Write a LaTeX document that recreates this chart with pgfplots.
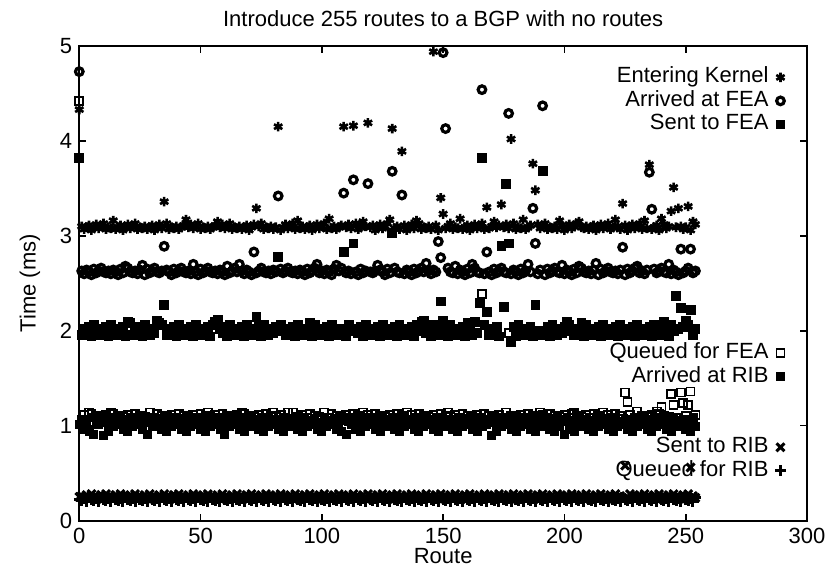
\documentclass[border=0pt]{standalone}
\usepackage{fontspec}
\setmainfont{Liberation Sans}
\usepackage{pgfplots}
\usepackage{pgfplotstable}
\pgfplotsset{compat=1.18}

% one row per route: time (ms) at each stage
\pgfplotstableread{
r ek af sf qf ar sr qr
0 4.33 4.73 3.82 4.42 1.01 0.25 0.22
1 3.10 2.63 1.96 1.06 1.07 0.26 0.21
2 3.07 2.60 2.02 1.11 0.96 0.24 0.23
3 3.09 2.64 1.98 1.05 1.03 0.27 0.20
4 3.11 2.62 2.04 1.14 0.94 0.23 0.24
5 3.06 2.59 1.94 1.12 1.09 0.28 0.22
6 3.09 2.65 2.06 1.04 0.91 0.25 0.21
7 3.12 2.61 2.00 1.10 1.05 0.26 0.23
8 3.08 2.63 1.96 1.07 1.01 0.24 0.20
9 3.10 2.66 2.02 1.09 1.07 0.27 0.24
10 3.13 2.62 1.98 1.06 0.90 0.23 0.22
11 3.07 2.61 2.04 1.11 1.03 0.28 0.21
12 3.09 2.63 1.94 1.05 0.94 0.25 0.23
13 3.08 2.60 2.06 1.14 1.09 0.26 0.20
14 3.16 2.64 2.00 1.12 0.99 0.24 0.24
15 3.07 2.62 1.96 1.04 1.05 0.27 0.22
16 3.09 2.59 2.02 1.10 1.01 0.23 0.21
17 3.11 2.65 1.98 1.07 1.07 0.28 0.23
18 3.06 2.61 2.04 1.09 0.96 0.25 0.20
19 3.09 2.68 1.94 1.06 1.03 0.26 0.24
20 3.12 2.66 2.09 1.11 0.94 0.24 0.22
21 3.08 2.62 2.08 1.05 1.09 0.27 0.21
22 3.10 2.61 1.96 1.08 0.99 0.23 0.23
23 3.13 2.63 2.02 1.12 1.05 0.28 0.20
24 3.07 2.60 1.98 1.04 1.01 0.25 0.24
25 3.09 2.64 2.04 1.10 1.07 0.26 0.22
26 3.08 2.69 1.94 1.07 0.96 0.24 0.21
27 3.10 2.59 2.06 1.09 1.03 0.27 0.23
28 3.07 2.65 2.00 1.06 0.91 0.23 0.20
29 3.09 2.61 1.96 1.14 1.09 0.28 0.24
30 3.11 2.63 2.02 1.05 0.99 0.25 0.22
31 3.06 2.66 1.98 1.08 1.05 0.26 0.21
32 3.09 2.62 2.10 1.12 1.01 0.24 0.23
33 3.12 2.61 2.08 1.04 1.07 0.27 0.20
34 3.08 2.63 2.06 1.10 0.96 0.23 0.24
35 3.36 2.89 2.27 1.07 1.03 0.28 0.22
36 3.13 2.64 1.96 1.09 0.94 0.25 0.21
37 3.07 2.62 2.02 1.06 1.09 0.26 0.23
38 3.09 2.59 1.98 1.11 0.99 0.24 0.20
39 3.08 2.65 2.04 1.05 1.05 0.27 0.24
40 3.10 2.61 1.94 1.08 1.01 0.23 0.22
41 3.07 2.63 2.06 1.12 1.07 0.28 0.21
42 3.09 2.66 2.00 1.04 0.96 0.25 0.23
43 3.11 2.62 1.96 1.10 1.03 0.26 0.20
44 3.17 2.61 2.02 1.07 0.94 0.24 0.24
45 3.09 2.63 1.98 1.09 1.09 0.27 0.22
46 3.12 2.60 2.04 1.06 0.99 0.23 0.21
47 3.08 2.70 1.94 1.11 1.05 0.28 0.23
48 3.10 2.62 2.06 1.05 1.01 0.25 0.20
49 3.13 2.59 2.00 1.08 1.07 0.26 0.24
50 3.07 2.65 1.96 1.12 0.96 0.24 0.22
51 3.09 2.61 2.02 1.04 1.03 0.27 0.21
52 3.08 2.63 1.98 1.10 0.94 0.23 0.23
53 3.10 2.66 2.04 1.14 1.09 0.28 0.20
54 3.07 2.62 1.94 1.09 0.99 0.25 0.24
55 3.09 2.61 2.06 1.06 1.05 0.26 0.22
56 3.11 2.63 2.09 1.11 1.01 0.24 0.21
57 3.15 2.60 2.12 1.05 1.07 0.27 0.23
58 3.09 2.64 2.02 1.08 0.96 0.23 0.20
59 3.12 2.62 1.98 1.12 1.03 0.28 0.24
60 3.08 2.59 2.04 1.04 0.91 0.25 0.22
61 3.10 2.68 1.94 1.10 1.09 0.26 0.21
62 3.13 2.61 2.06 1.07 0.99 0.24 0.23
63 3.07 2.63 2.00 1.09 1.05 0.27 0.20
64 3.09 2.66 1.96 1.06 1.01 0.23 0.24
65 3.08 2.62 2.02 1.11 1.07 0.28 0.22
66 3.10 2.70 1.98 1.05 0.96 0.25 0.21
67 3.07 2.63 2.04 1.14 1.03 0.26 0.23
68 3.09 2.60 1.94 1.12 0.94 0.24 0.20
69 3.11 2.64 2.06 1.04 1.09 0.27 0.24
70 3.06 2.62 2.00 1.10 0.99 0.23 0.22
71 3.09 2.59 1.96 1.07 1.05 0.28 0.21
72 3.12 2.83 2.02 1.09 1.01 0.25 0.23
73 3.29 2.61 2.15 1.06 1.07 0.26 0.20
74 3.10 2.63 2.04 1.11 0.96 0.24 0.24
75 3.13 2.66 1.94 1.05 1.03 0.27 0.22
76 3.07 2.62 2.06 1.08 0.94 0.23 0.21
77 3.09 2.61 2.00 1.12 1.09 0.28 0.23
78 3.08 2.63 1.96 1.04 0.99 0.25 0.20
79 3.10 2.60 2.02 1.10 1.05 0.26 0.24
80 3.07 2.64 1.98 1.14 1.01 0.24 0.22
81 3.09 2.62 2.04 1.09 1.07 0.27 0.21
82 4.15 3.42 2.78 1.06 0.96 0.23 0.23
83 3.06 2.65 2.06 1.11 1.03 0.28 0.20
84 3.09 2.61 2.00 1.05 0.94 0.25 0.24
85 3.12 2.63 1.96 1.08 1.09 0.26 0.22
86 3.08 2.66 2.02 1.14 0.99 0.24 0.21
87 3.10 2.62 1.98 1.04 1.05 0.27 0.23
88 3.13 2.61 2.04 1.14 1.01 0.23 0.20
89 3.07 2.63 1.94 1.07 1.07 0.28 0.24
90 3.16 2.60 2.06 1.09 0.96 0.25 0.22
91 3.08 2.64 2.00 1.06 1.03 0.26 0.21
92 3.10 2.62 1.96 1.11 0.94 0.24 0.23
93 3.07 2.59 2.02 1.05 1.09 0.27 0.20
94 3.09 2.65 1.98 1.08 0.99 0.23 0.24
95 3.11 2.61 2.08 1.12 1.05 0.28 0.22
96 3.06 2.63 1.94 1.04 1.01 0.25 0.21
97 3.09 2.66 2.06 1.10 1.07 0.26 0.23
98 3.12 2.70 2.00 1.07 0.96 0.24 0.20
99 3.08 2.61 1.96 1.09 1.03 0.27 0.24
100 3.10 2.63 2.02 1.06 0.94 0.23 0.22
101 3.13 2.60 1.98 1.14 1.09 0.28 0.21
102 3.07 2.64 2.04 1.05 0.99 0.25 0.23
103 3.18 2.62 1.94 1.08 1.05 0.26 0.20
104 3.08 2.59 2.06 1.12 1.01 0.24 0.24
105 3.10 2.65 2.00 1.04 1.07 0.27 0.22
106 3.07 2.69 1.96 1.10 0.96 0.23 0.21
107 3.09 2.63 2.02 1.07 1.03 0.28 0.23
108 3.11 2.66 1.98 1.09 0.94 0.25 0.20
109 4.15 3.45 2.83 1.06 1.09 0.26 0.24
110 3.09 2.61 1.94 1.11 0.91 0.24 0.22
111 3.12 2.63 2.06 1.05 1.05 0.27 0.21
112 3.08 2.60 2.00 1.08 1.01 0.23 0.23
113 4.16 3.59 2.92 1.12 1.07 0.28 0.20
114 3.13 2.62 2.02 1.04 0.96 0.25 0.24
115 3.07 2.59 1.98 1.10 1.03 0.26 0.22
116 3.09 2.65 2.04 1.07 0.94 0.24 0.21
117 3.15 2.61 1.94 1.14 1.09 0.27 0.23
118 3.10 2.63 2.06 1.06 0.99 0.23 0.20
119 4.19 3.55 2.00 1.11 1.05 0.28 0.24
120 3.09 2.62 1.96 1.05 1.01 0.25 0.22
121 3.11 2.61 2.02 1.08 1.07 0.26 0.21
122 3.06 2.63 1.98 1.12 0.96 0.24 0.23
123 3.09 2.69 2.04 1.04 1.03 0.27 0.20
124 3.12 2.64 1.94 1.10 0.94 0.23 0.24
125 3.08 2.62 2.06 1.07 1.09 0.28 0.22
126 3.10 2.59 2.00 1.09 0.99 0.25 0.21
127 3.13 2.65 1.96 1.06 1.05 0.26 0.23
128 3.17 2.61 2.02 1.11 1.01 0.24 0.20
129 4.13 3.68 3.03 1.05 1.07 0.27 0.24
130 3.08 2.66 2.04 1.08 0.96 0.23 0.22
131 3.10 2.62 1.94 1.12 1.03 0.28 0.21
132 3.07 2.61 2.06 1.04 0.94 0.25 0.23
133 3.89 3.43 2.00 1.10 1.09 0.26 0.20
134 3.11 2.60 1.96 1.07 0.99 0.24 0.24
135 3.06 2.64 2.02 1.14 1.05 0.27 0.22
136 3.09 2.62 1.98 1.06 1.01 0.23 0.21
137 3.12 2.59 2.04 1.11 1.07 0.28 0.23
138 3.08 2.65 1.94 1.05 0.96 0.25 0.20
139 3.16 2.61 2.06 1.08 1.03 0.26 0.24
140 3.13 2.63 2.00 1.12 0.94 0.24 0.22
141 3.07 2.66 2.09 1.04 1.09 0.27 0.21
142 3.09 2.62 2.10 1.10 0.99 0.23 0.23
143 3.08 2.71 1.98 1.07 1.05 0.28 0.20
144 3.10 2.63 2.04 1.09 1.01 0.25 0.24
145 3.07 2.60 1.94 1.06 1.07 0.26 0.22
146 4.94 2.64 2.06 1.11 0.96 0.24 0.21
147 3.11 2.62 2.00 1.05 1.03 0.27 0.23
148 3.06 2.94 1.96 1.08 0.94 0.23 0.20
149 3.40 2.77 2.31 1.12 1.09 0.28 0.24
150 3.23 4.93 2.10 1.04 0.99 0.25 0.22
151 3.08 4.13 2.04 1.10 1.05 0.26 0.21
152 3.10 2.66 1.94 1.14 1.01 0.24 0.23
153 3.13 2.62 2.06 1.09 1.07 0.27 0.20
154 3.07 2.61 2.00 1.06 0.96 0.23 0.24
155 3.09 2.68 1.96 1.11 1.03 0.28 0.22
156 3.08 2.60 2.02 1.05 0.94 0.25 0.21
157 3.18 2.64 1.98 1.08 1.09 0.26 0.23
158 3.07 2.62 2.04 1.12 0.99 0.24 0.20
159 3.09 2.59 1.94 1.04 1.05 0.27 0.24
160 3.11 2.65 2.08 1.10 1.01 0.23 0.22
161 3.06 2.61 2.00 1.07 1.07 0.28 0.21
162 3.09 2.70 1.96 1.09 0.96 0.25 0.23
163 3.12 2.66 2.09 1.06 1.03 0.26 0.20
164 3.08 2.62 1.98 1.11 0.94 0.24 0.24
165 3.10 2.61 2.29 1.05 1.09 0.27 0.22
166 3.13 4.54 3.82 2.39 0.99 0.23 0.21
167 3.07 2.60 2.06 1.12 1.05 0.28 0.23
168 3.30 2.83 2.20 1.04 1.01 0.25 0.20
169 3.08 2.62 1.96 1.10 1.07 0.26 0.24
170 3.10 2.59 2.02 1.07 0.90 0.24 0.22
171 3.15 2.65 1.98 1.09 1.03 0.27 0.21
172 3.09 2.61 2.04 1.06 0.94 0.23 0.23
173 3.11 2.63 1.94 1.11 1.09 0.28 0.20
174 3.33 2.66 2.89 1.05 0.99 0.25 0.24
175 3.09 2.62 2.25 1.08 1.05 0.26 0.22
176 3.12 2.61 3.55 1.14 1.01 0.24 0.21
177 3.08 4.29 2.92 1.98 1.07 0.27 0.23
178 4.02 2.60 1.88 1.10 0.96 0.23 0.20
179 3.13 2.64 2.04 1.07 1.03 0.28 0.24
180 3.07 2.62 1.94 1.09 0.94 0.25 0.22
181 3.09 2.59 2.06 1.06 1.09 0.26 0.21
182 3.08 2.65 2.00 1.11 0.99 0.24 0.23
183 3.17 2.61 1.96 1.05 1.05 0.27 0.20
184 3.07 2.63 2.02 1.08 1.01 0.23 0.24
185 3.09 2.70 1.98 1.12 1.07 0.28 0.22
186 3.11 2.62 2.04 1.04 0.96 0.25 0.21
187 3.76 3.29 1.94 1.10 1.03 0.26 0.23
188 3.48 2.92 2.27 1.07 0.94 0.24 0.20
189 3.12 2.60 2.00 1.09 1.09 0.27 0.24
190 3.08 2.64 1.96 1.14 0.99 0.23 0.22
191 3.10 4.37 3.68 1.11 1.05 0.28 0.21
192 3.13 2.59 1.98 1.05 1.01 0.25 0.23
193 3.07 2.65 2.04 1.08 1.07 0.26 0.20
194 3.09 2.61 1.94 1.12 0.96 0.24 0.24
195 3.08 2.63 2.06 1.04 1.03 0.27 0.22
196 3.10 2.66 2.00 1.10 0.94 0.23 0.21
197 3.07 2.62 1.96 1.07 1.09 0.28 0.23
198 3.16 2.61 2.02 1.09 0.99 0.25 0.20
199 3.11 2.69 1.98 1.06 1.05 0.26 0.24
200 3.06 2.60 2.04 1.11 0.91 0.24 0.22
201 3.09 2.64 2.09 1.05 1.07 0.27 0.21
202 3.12 2.62 2.06 1.08 0.96 0.23 0.23
203 3.08 2.59 2.00 1.12 1.03 0.28 0.20
204 3.10 2.65 1.96 1.14 0.94 0.25 0.24
205 3.13 2.61 2.02 1.10 1.09 0.26 0.22
206 3.15 2.68 1.98 1.07 0.99 0.24 0.21
207 3.09 2.66 2.08 1.09 1.05 0.27 0.23
208 3.08 2.62 1.94 1.06 1.01 0.23 0.20
209 3.10 2.61 2.06 1.11 1.07 0.28 0.24
210 3.07 2.63 2.00 1.05 0.96 0.25 0.22
211 3.09 2.60 1.96 1.08 1.03 0.26 0.21
212 3.11 2.64 2.02 1.12 0.94 0.24 0.23
213 3.06 2.71 1.98 1.04 1.09 0.27 0.20
214 3.09 2.59 2.04 1.10 0.99 0.23 0.24
215 3.12 2.65 1.94 1.07 1.05 0.28 0.22
216 3.08 2.61 2.06 1.14 1.01 0.25 0.21
217 3.10 2.63 2.00 1.06 1.07 0.26 0.23
218 3.13 2.66 1.96 1.11 0.96 0.24 0.20
219 3.07 2.62 2.02 1.05 1.03 0.27 0.24
220 3.09 2.61 1.98 1.08 0.94 0.23 0.22
221 3.17 2.63 2.04 1.12 1.09 0.28 0.21
222 3.10 2.60 1.94 1.04 0.99 0.25 0.23
223 3.07 2.64 2.06 1.10 1.05 0.26 0.20
224 3.34 2.88 2.00 1.07 1.01 0.24 0.24
225 3.11 2.59 1.96 1.35 1.07 0.58 0.22
226 3.06 2.65 2.02 1.25 0.96 0.23 0.21
227 3.09 2.61 1.98 1.11 1.03 0.28 0.23
228 3.12 2.63 2.04 1.05 0.94 0.25 0.20
229 3.08 2.66 1.94 1.08 1.09 0.26 0.24
230 3.10 2.68 2.06 1.15 0.99 0.24 0.22
231 3.13 2.61 2.00 1.04 1.05 0.27 0.21
232 3.07 2.63 1.96 1.10 1.01 0.23 0.23
233 3.16 2.60 2.02 1.07 1.07 0.28 0.20
234 3.08 2.64 1.98 1.09 0.96 0.25 0.24
235 3.75 3.67 2.04 1.06 1.03 0.26 0.22
236 3.07 3.28 1.94 1.11 0.94 0.24 0.21
237 3.09 2.65 2.06 1.05 1.09 0.27 0.23
238 3.11 2.61 2.00 1.15 0.99 0.23 0.20
239 3.06 2.63 1.96 1.12 1.05 0.28 0.24
240 3.18 2.66 2.02 1.20 1.01 0.25 0.22
241 3.12 2.62 2.09 1.10 1.07 0.26 0.21
242 3.08 2.61 2.04 1.07 0.96 0.24 0.23
243 3.10 2.70 1.94 1.09 1.03 0.27 0.20
244 3.26 2.60 2.06 1.33 0.94 0.23 0.24
245 3.51 2.64 2.00 1.22 1.09 0.28 0.22
246 3.09 2.62 2.37 1.05 0.99 0.25 0.21
247 3.29 2.59 2.02 1.08 1.05 0.26 0.23
248 3.10 2.86 2.24 1.35 1.01 0.24 0.20
249 3.07 2.61 2.04 1.24 1.07 0.27 0.24
250 3.09 2.63 2.10 1.10 0.96 0.23 0.22
251 3.31 2.66 2.06 1.22 1.03 0.28 0.21
252 3.06 2.86 2.22 1.36 0.94 0.56 0.23
253 3.15 2.61 1.96 1.06 1.09 0.26 0.20
254 3.12 2.63 2.02 1.11 0.99 0.24 0.24
}\routes

\pgfplotsset{
  bgp/.style={
    scale only axis, width=363.9pt, height=237.35pt,
    xmin=0, xmax=300, ymin=0, ymax=5,
    axis line style={line width=0.9pt},
    tick align=inside, major tick length=3.5pt,
    every tick/.style={black, line width=0.8pt},
    tick label style={/pgf/number format/assume math mode=true},
    legend style={draw=none, fill=none, anchor=north east, inner sep=0pt,
      row sep=0pt, nodes={inner sep=1pt, text height=7.5pt, text depth=2.25pt}},
    legend cell align=right, legend plot pos=right,
  },
  mlegend/.style={legend image code/.code={
    \path[draw=none, fill=none] (0pt,-1pt) rectangle (12pt,1pt);
    \draw[##1, only marks] plot coordinates {(5pt,0pt)};}},
  ek/.style={only marks, black, mark=asterisk, mark size=2.4pt, line width=1.3pt, mlegend},
  af/.style={only marks, black, mark=o, mark size=1.9pt, line width=1.6pt, mlegend},
  sf/.style={only marks, black, mark=square*, mark size=2.2pt, mlegend},
  qf/.style={only marks, black, mark=square, mark size=2pt, line width=0.9pt, mlegend},
  ar/.style={only marks, black, mark=square*, mark size=2pt, mlegend},
  sr/.style={only marks, black, mark=x, mark size=2.8pt, line width=1.5pt, mlegend},
  qr/.style={only marks, black, mark=+, mark size=2.8pt, line width=1.5pt, mlegend},
}

\begin{document}
\begin{tikzpicture}[font=\fontsize{11}{13.2}\selectfont]
\begin{axis}[bgp, name=main,
  xtick={0,50,...,300}, ytick={0,1,...,5},
  title={Introduce 255 routes to a BGP with no routes},
  title style={at={(axis description cs:0.5,1.033)}, anchor=center},
  xlabel={Route},
  xlabel style={at={(axis description cs:0.5,-0.0744)}, anchor=center},
  ylabel={Time (ms)},
  ylabel style={at={(axis description cs:-0.0677,0.5)}, anchor=center},
  legend style={at={(axis cs:295,4.797)}},
]
\addplot[ek] table[x=r, y=ek] {\routes}; \addlegendentry{Entering Kernel}
\addplot[af] table[x=r, y=af] {\routes}; \addlegendentry{Arrived at FEA}
\addplot[sf] table[x=r, y=sf] {\routes}; \addlegendentry{Sent to FEA}
\end{axis}

\begin{axis}[bgp, hide axis,
  legend style={at={(axis cs:295,1.890)}},
]
\addplot[qf] table[x=r, y=qf] {\routes}; \addlegendentry{Queued for FEA}
\addplot[ar] table[x=r, y=ar] {\routes}; \addlegendentry{Arrived at RIB}
\addlegendimage{empty legend} \addlegendentry{}
\addlegendimage{empty legend} \addlegendentry{}
\addplot[sr] table[x=r, y=sr] {\routes}; \addlegendentry{Sent to RIB}
\addplot[qr] table[x=r, y=qr] {\routes}; \addlegendentry{Queued for RIB}
\end{axis}

\pgfresetboundingbox
\path ([shift={(-39.65pt,-23.65pt)}]main.south west)
  rectangle ([shift={(14.5pt,23pt)}]main.north east);
\end{tikzpicture}
\end{document}
